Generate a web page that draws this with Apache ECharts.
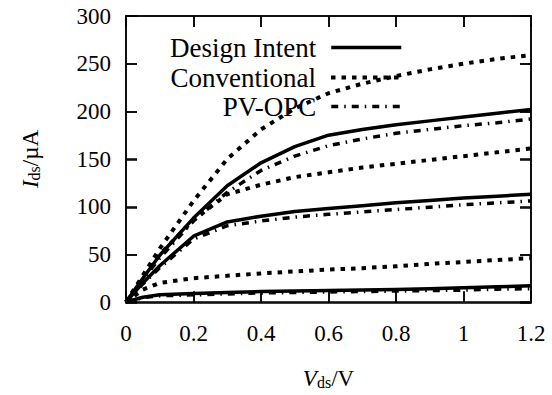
<!DOCTYPE html>
<html>
<head>
<meta charset="utf-8">
<script src="https://cdn.jsdelivr.net/npm/echarts@6/dist/echarts.min.js"></script>
<style>
html,body{margin:0;padding:0;background:#fff;}
#wrap{position:relative;width:552px;height:395px;}
#c,#t{position:absolute;left:0;top:0;width:552px;height:395px;}
#t{pointer-events:none;}
</style>
</head>
<body>
<div id="wrap"><div id="c"></div><div id="t"></div></div>
<script>
// ---- data ----
var xVals = [0, 0.05, 0.1, 0.2, 0.3, 0.4, 0.5, 0.6, 0.7, 0.8, 0.9, 1.0, 1.1, 1.2];
var designHigh = [0, 25, 49, 88, 122, 146, 163, 175, 181, 186, 190, 194, 198, 202];
var designMid  = [0, 20, 38, 69, 84, 90, 95, 98, 101, 104, 106.5, 109, 111, 113];
var designLow  = [0, 5, 7.5, 9, 10, 11, 11.5, 12, 12.5, 13, 14, 15, 16, 17];
var convHigh   = [0, 28, 56, 106, 150, 181, 203, 219, 229, 237, 244, 250, 255, 259];
var convMid    = [0, 26, 50, 86, 113, 123, 131, 136, 141, 145, 149, 153, 157, 161];
var convLow    = [0, 13, 20, 25, 27.5, 30, 32, 34, 35.5, 37.5, 40, 42, 44, 46];
var pvHigh     = [0, 24, 46, 85, 115, 138, 153, 164, 171, 177, 181, 185, 188, 192];
var pvMid      = [0, 19, 36, 66, 80, 85, 89, 92, 94.5, 97, 99.5, 102, 104, 106];
var pvLow      = [0, 4.5, 6.5, 7.5, 8.5, 9.5, 10, 10.5, 11, 11.5, 12, 12.5, 13.5, 14];
var seriesNames = ['Design Intent', 'Conventional', 'PV-OPC'];
var xTicks = [0, 0.2, 0.4, 0.6, 0.8, 1, 1.2];
var yTicks = [0, 50, 100, 150, 200, 250, 300];

function pairs(ys) { return xVals.map(function (x, i) { return [x, ys[i]]; }); }

var FONT = 'Liberation Serif';
var GRID = { left: 126, right: 21, top: 16, bottom: 92 };
var styles = {
  'Design Intent': { width: 3.5, type: 'solid' },
  'Conventional': { width: 4, type: [4.5, 6] },
  'PV-OPC': { width: 3.5, type: [7, 6, 1.5, 6] }
};
var groups = [
  ['Design Intent', [designHigh, designMid, designLow]],
  ['Conventional', [convHigh, convMid, convLow]],
  ['PV-OPC', [pvHigh, pvMid, pvLow]]
];
var series = [];
groups.forEach(function (g) {
  g[1].forEach(function (ys) {
    series.push({
      name: g[0], type: 'line', data: pairs(ys), symbol: 'none', showSymbol: false,
      smooth: false, animation: false, silent: true,
      lineStyle: { color: '#000', width: styles[g[0]].width, type: styles[g[0]].type, cap: 'butt', join: 'round' },
      itemStyle: { color: '#000' }
    });
  });
});

var rowTops = [29, 59, 88];
var legends = seriesNames.map(function (n, i) {
  return {
    data: [n], orient: 'horizontal', align: 'right', right: 144, top: rowTops[i],
    itemWidth: 70, itemHeight: 14,
    itemStyle: { opacity: 0, borderWidth: 0 },
    lineStyle: { color: '#000', width: styles[n].width, type: styles[n].type, cap: 'butt' },
    textStyle: { fontFamily: FONT, fontSize: 27, color: '#000', padding: [0, 10, 0, 0] },
    selectedMode: false
  };
});

function axLine() { return { show: true, onZero: false, lineStyle: { color: '#000', width: 1.5 } }; }
function tick() { return { show: true, inside: true, length: 11, lineStyle: { color: '#000', width: 1.5 } }; }
var rich = { i: { fontFamily: FONT, fontStyle: 'italic', fontSize: 23 }, s: { fontFamily: FONT, fontSize: 16, verticalAlign: 'bottom', padding: [8, 0, 0, 0] }, n: { fontFamily: FONT, fontSize: 23 } };

var opt = {
  animation: false,
  backgroundColor: '#fff',
  grid: { left: GRID.left, right: GRID.right, top: GRID.top, bottom: GRID.bottom, show: false },
  legend: legends,
  xAxis: [{
    type: 'value', min: 0, max: 1.2, interval: 0.2, position: 'bottom',
    axisLine: axLine(), axisTick: tick(), splitLine: { show: false },
    axisLabel: { fontFamily: FONT, fontSize: 23, color: '#000', margin: 20,
      formatter: function (v) { var r = Math.round(v * 10) / 10; return xTicks.indexOf(r) >= 0 ? String(r) : ''; } },
    name: '{i|V}{s|ds}{n|/V}', nameLocation: 'middle', nameGap: 64,
    nameTextStyle: { fontFamily: FONT, fontSize: 23, color: '#000', rich: rich }
  }, {
    type: 'value', min: 0, max: 1.2, interval: 0.2, position: 'top',
    axisLine: axLine(), axisTick: tick(), splitLine: { show: false }, axisLabel: { show: false }
  }],
  yAxis: [{
    type: 'value', min: 0, max: 300, interval: 50, position: 'left',
    axisLine: axLine(), axisTick: tick(), splitLine: { show: false },
    axisLabel: { fontFamily: FONT, fontSize: 23, color: '#000', margin: 15,
      formatter: function (v) { return yTicks.indexOf(v) >= 0 ? String(v) : ''; } },
    name: '{i|I}{s|ds}{n|/µA}', nameLocation: 'middle', nameGap: 84, nameRotate: 90,
    nameTextStyle: { fontFamily: FONT, fontSize: 23, color: '#000', rich: rich }
  }, {
    type: 'value', min: 0, max: 300, interval: 50, position: 'right',
    axisLine: axLine(), axisTick: tick(), splitLine: { show: false }, axisLabel: { show: false }
  }],
  series: series
};
var chart = echarts.init(document.getElementById('c'), null, { renderer: 'svg' });
chart.setOption(opt);

// Transparent overlay chart that only carries the inward tick marks of the same axes.
var tickOpt = {
  animation: false,
  backgroundColor: 'transparent',
  grid: { left: GRID.left, right: GRID.right, top: GRID.top, bottom: GRID.bottom, show: false },
  xAxis: [
    { type: 'value', min: 0, max: 1.2, interval: 0.2, position: 'bottom', axisLine: axLine(), axisTick: tick(), axisLabel: { show: false }, splitLine: { show: false } },
    { type: 'value', min: 0, max: 1.2, interval: 0.2, position: 'top', axisLine: axLine(), axisTick: tick(), axisLabel: { show: false }, splitLine: { show: false } }
  ],
  yAxis: [
    { type: 'value', min: 0, max: 300, interval: 50, position: 'left', axisLine: axLine(), axisTick: tick(), axisLabel: { show: false }, splitLine: { show: false } },
    { type: 'value', min: 0, max: 300, interval: 50, position: 'right', axisLine: axLine(), axisTick: tick(), axisLabel: { show: false }, splitLine: { show: false } }
  ],
  series: []
};
var tickChart = echarts.init(document.getElementById('t'), null, { renderer: 'svg' });
tickChart.setOption(tickOpt);
</script>
</body>
</html>
